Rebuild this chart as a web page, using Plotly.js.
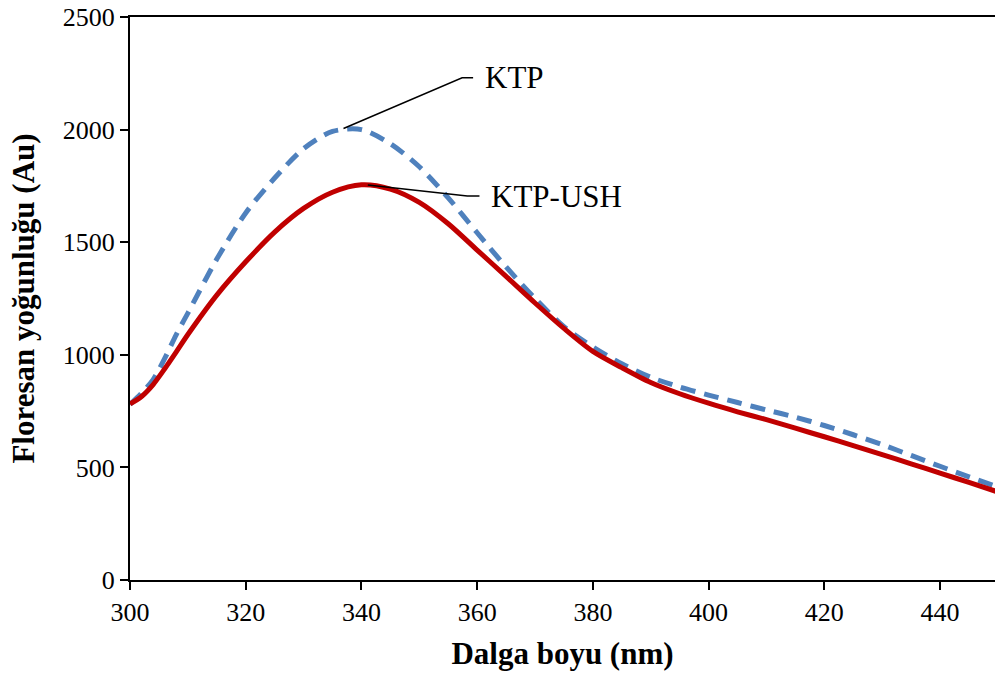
<!DOCTYPE html>
<html>
<head>
<meta charset="utf-8">
<script src="https://cdn.plot.ly/plotly-3.0.1.min.js"></script>
<style>html,body{margin:0;padding:0;background:#fff;}#chart{width:995px;height:675px;}</style>
</head>
<body>
<div id="chart"></div>
<script>
// Wavelength (nm)
const wavelength = [300,302,304,306,308,310,315,320,325,330,335,340,345,350,355,360,365,370,375,380,385,390,395,400,405,410,415,420,425,430,435,440,445,450];
// KTP (blue dashed)
const ktp = [780,830,890,984,1090,1185,1425,1630,1785,1915,1992,2000,1937,1835,1697,1542,1390,1250,1125,1035,960,900,857,821,788,755,723,686,645,601,553,505,458,413];
// KTP-USH (red solid)
const ktpUsh = [782,815,868,938,1013,1090,1265,1413,1545,1650,1722,1755,1736,1677,1582,1465,1348,1230,1117,1015,943,877,827,785,747,712,674,636,597,557,516,475,433,391];

const seriesNames = ["KTP", "KTP-USH"];
const xTicks = [300,320,340,360,380,400,420,440];
const yTicks = [0,500,1000,1500,2000,2500];

// leader-line label positions (in data units): [pointX, pointY, kinkX, kinkY, endX, textX]
const ktpLabel = [336.9, 2005, 357.4, 2230, 359.3, 361.0];
const ushLabel = [341.1, 1754, 358.3, 1705, 360.4, 362.0];

const traces = [
  {x: wavelength, y: ktp, name: seriesNames[0], type: 'scatter', mode: 'lines',
   line: {color: '#4F81BD', width: 5, dash: '15px,9px', shape: 'spline', smoothing: 0.8}},
  {x: wavelength, y: ktpUsh, name: seriesNames[1], type: 'scatter', mode: 'lines',
   line: {color: '#C00000', width: 5, shape: 'spline', smoothing: 0.8}}
];

function leader(l) {
  return {type: 'path', xref: 'x', yref: 'y',
    path: 'M ' + l[0] + ',' + l[1] + ' L ' + l[2] + ',' + l[3] + ' L ' + l[4] + ',' + l[3],
    line: {color: '#000', width: 1.5}};
}
function label(l, txt) {
  return {x: l[5], y: l[3], xref: 'x', yref: 'y', text: txt, showarrow: false,
    xanchor: 'left', yanchor: 'middle',
    font: {family: 'Liberation Serif', size: 31, color: '#000'}};
}

const layout = {
  width: 995, height: 675,
  margin: {l: 130, r: 0, t: 17, b: 95},
  paper_bgcolor: '#fff', plot_bgcolor: '#fff',
  showlegend: false,
  font: {family: 'Liberation Serif', color: '#000'},
  xaxis: {
    range: [300, 449.5], tickvals: xTicks, ticktext: xTicks.map(String),
    showgrid: false, zeroline: false,
    showline: true, linecolor: '#000', linewidth: 2, mirror: true,
    ticks: 'outside', ticklen: 8, tickwidth: 2, tickcolor: '#000',
    tickfont: {family: 'Liberation Serif', size: 26, color: '#000'},
    title: {text: '<b>Dalga boyu (nm)</b>', font: {family: 'Liberation Serif', size: 31, color: '#000'}, standoff: 16}
  },
  yaxis: {
    range: [0, 2500], tickvals: yTicks, ticktext: yTicks.map(String),
    showgrid: false, zeroline: false,
    showline: true, linecolor: '#000', linewidth: 2,
    ticks: 'outside', ticklen: 8, tickwidth: 2, tickcolor: '#000',
    tickfont: {family: 'Liberation Serif', size: 26, color: '#000'},
    title: {text: '<b>Floresan yoğunluğu (Au)</b>', font: {family: 'Liberation Serif', size: 31, color: '#000'}, standoff: 19}
  },
  shapes: [leader(ktpLabel), leader(ushLabel)],
  annotations: [label(ktpLabel, seriesNames[0]), label(ushLabel, seriesNames[1])]
};

Plotly.newPlot('chart', traces, layout, {staticPlot: true, displayModeBar: false});
</script>
</body>
</html>
